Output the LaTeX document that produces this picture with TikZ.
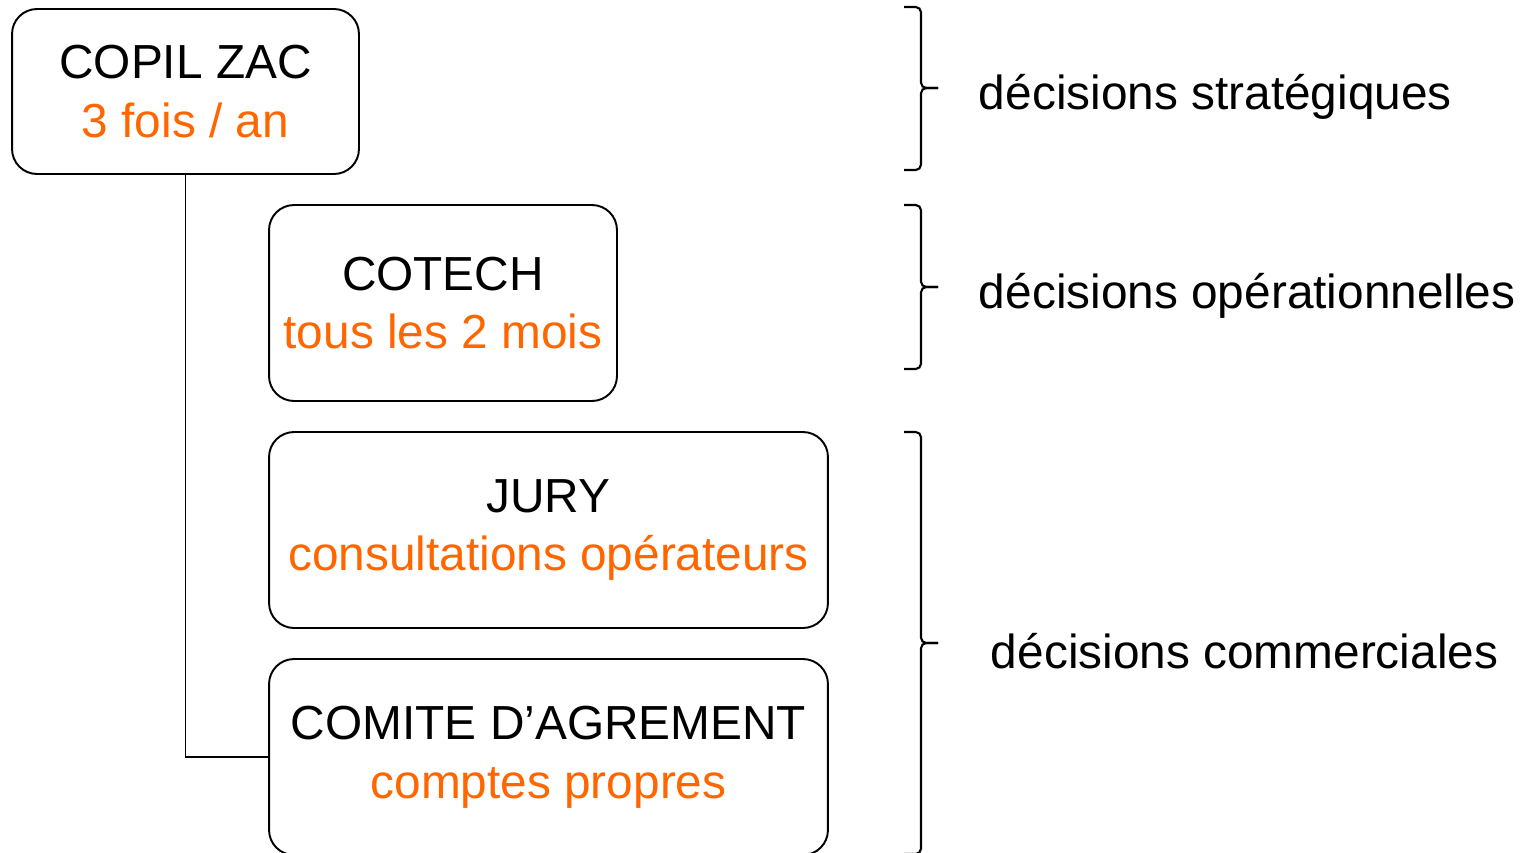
\documentclass[tikz,border=0pt]{standalone}
\usepackage{fontspec}
\setmainfont{Liberation Sans}
\usetikzlibrary{positioning}
\definecolor{freq}{HTML}{FF6600}

\begin{document}
\begin{tikzpicture}[
                    x=0.02cm,
                    y=-0.02cm,
                    line width=1.1pt,
                    instance/.style={draw, rounded corners=0.5cm, align=center,
                                     font=\fontsize{27.2}{33.5}\selectfont},
                    wide/.style={instance, minimum width=11.18cm, minimum height=3.92cm},
                    lbl/.style={inner sep=0pt, yshift=-0.17cm, font=\fontsize{27.2}{33}\selectfont},
                    brc/.style={line width=1.2pt, rounded corners=3pt}
                ]
                \useasboundingbox (0,0) rectangle (1524,852);

                \node[instance, minimum width=6.94cm, minimum height=3.3cm] (copil) at (185.5,91.5)
                    {COPIL ZAC\\\textcolor{freq}{3 fois / an}};
                \node[instance, minimum width=6.96cm, minimum height=3.92cm] (cotech) at (443,303)
                    {COTECH\\\textcolor{freq}{tous les 2 mois}};
                \node[wide] (jury) at (548.5,530)
                    {JURY\\\textcolor{freq}{consultations opérateurs}};
                \node[wide] (comite) at (548.5,757)
                    {COMITE D’AGREMENT\\\textcolor{freq}{comptes propres}};

                \draw (copil.south) |- (comite.west);

                % accolades
                \foreach \i/\t/\m/\b in {1/7/88/170, 2/205/287/369, 3/432/643/854} {
                    \draw[brc] (904,\t) -| (921,\m) -- (938,\m);
                    \draw[brc] (938,\m) -- (921,\m) |- (904,\b);
                    \coordinate (tip\i) at (938,\m);
                }

                \node[lbl, right=0.8cm of tip1] (strat) {décisions stratégiques};
                \node[lbl, right=0.8cm of tip2] (oper) {décisions opérationnelles};
                \node[lbl, right=1.04cm of tip3] (comm) {décisions commerciales};

            \end{tikzpicture}
\end{document}
